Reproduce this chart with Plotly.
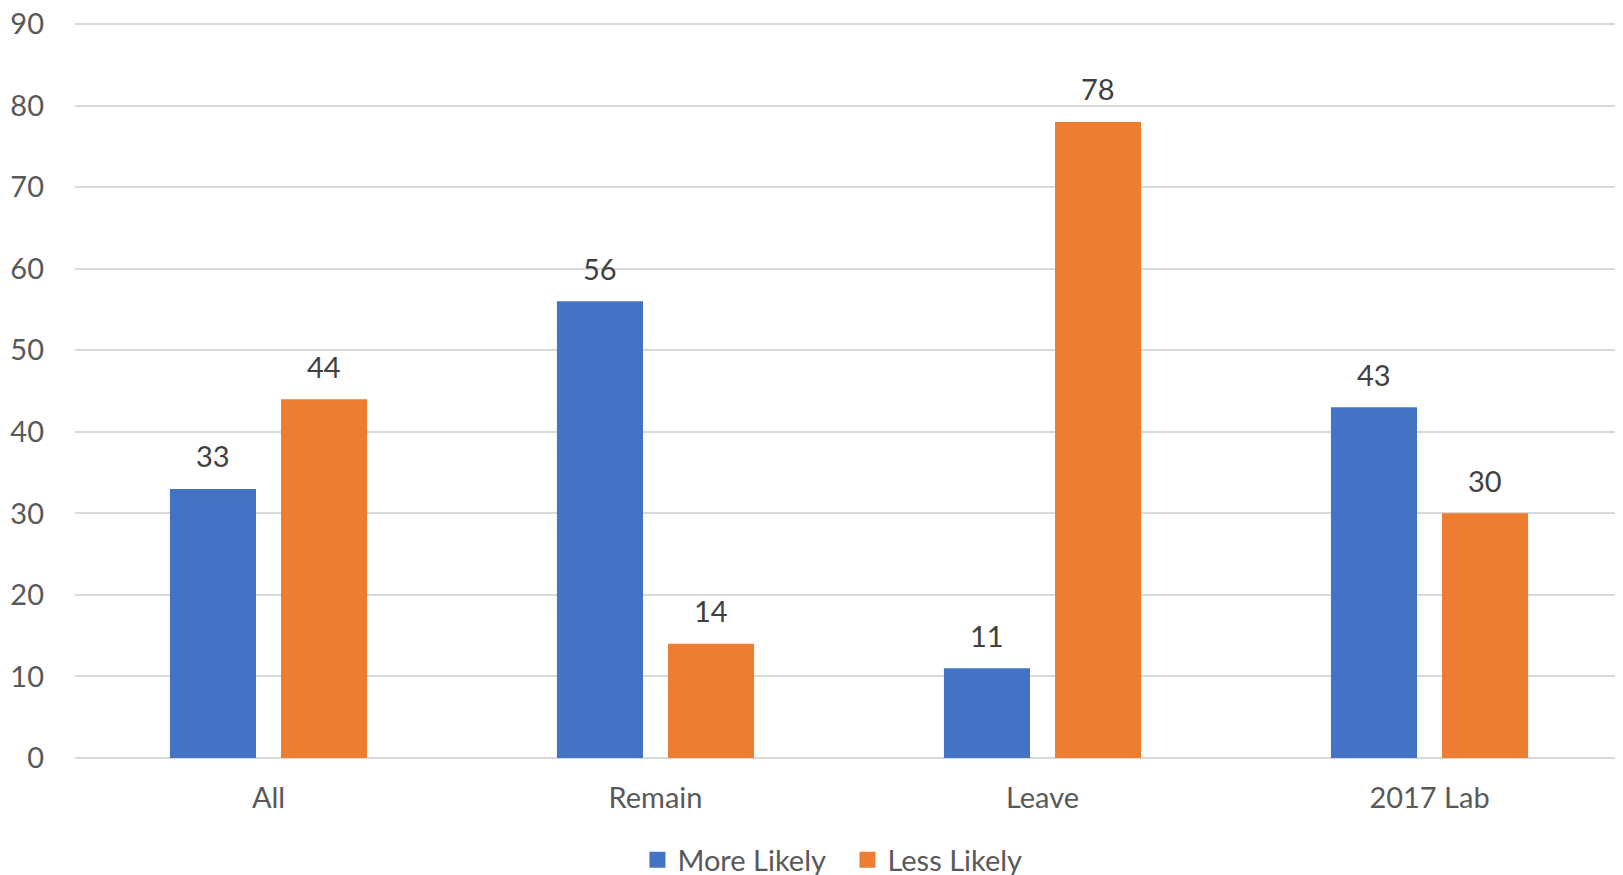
import plotly.graph_objects as go

categories = ["All", "Remain", "Leave", "2017 Lab"]
more_likely = [33, 56, 11, 43]
less_likely = [44, 14, 78, 30]
y_ticks = [0, 10, 20, 30, 40, 50, 60, 70, 80, 90]

BLUE = "#4472C4"
ORANGE = "#ED7D31"
FONT = "Lato, Open Sans, sans-serif"
FS = 29

fig = go.Figure()
fig.add_trace(go.Bar(name="More Likely", x=categories, y=more_likely, showlegend=False,
                     marker=dict(color=BLUE, line=dict(width=0))))
fig.add_trace(go.Bar(name="Less Likely", x=categories, y=less_likely, showlegend=False,
                     marker=dict(color=ORANGE, line=dict(width=0))))
# legend entries with larger square swatches
for name, col in (("More Likely", BLUE), ("Less Likely", ORANGE)):
    fig.add_trace(go.Scatter(name=name, x=[None], y=[None], mode="markers",
                             marker=dict(symbol="square", size=18, color=col)))

# data labels above bars
for series, shift in ((more_likely, -55.5), (less_likely, 55.5)):
    for c, v in zip(categories, series):
        fig.add_annotation(x=c, y=v, xref="x", yref="y", text=str(v), showarrow=False,
                           xshift=shift, yshift=33, yanchor="middle",
                           font=dict(family=FONT, size=FS, color="#404040"))

# page body has an 8px margin, so the figure is sized/offset to compensate
fig.update_layout(
    width=1615, height=867,
    margin=dict(l=67, r=0, t=12, b=117, autoexpand=False),
    paper_bgcolor="white", plot_bgcolor="white",
    barmode="group", bargap=0.426, bargroupgap=0.225,
    font=dict(family=FONT, size=FS, color="#595959"),
    showlegend=True,
    legend=dict(orientation="h", x=0.499, xanchor="center", y=-0.138, yanchor="middle",
                font=dict(family=FONT, size=FS, color="#595959"), itemwidth=30,
                entrywidth=165, tracegroupgap=0,
                traceorder="normal"),
    xaxis=dict(showgrid=False, showline=False, ticks="", ticklabelstandoff=20, automargin=False,
               tickfont=dict(family=FONT, size=FS, color="#595959")),
    yaxis=dict(range=[0, 90.5], tickvals=y_ticks, showgrid=True, gridcolor="#D9D9D9", gridwidth=1.5,
               zeroline=True, zerolinecolor="#D9D9D9", zerolinewidth=1.5, showline=False,
               ticks="", ticklabelstandoff=30, automargin=False, ticklabeloverflow="allow",
               tickfont=dict(family=FONT, size=FS, color="#595959")),
)

fig.write_html("out.html")
